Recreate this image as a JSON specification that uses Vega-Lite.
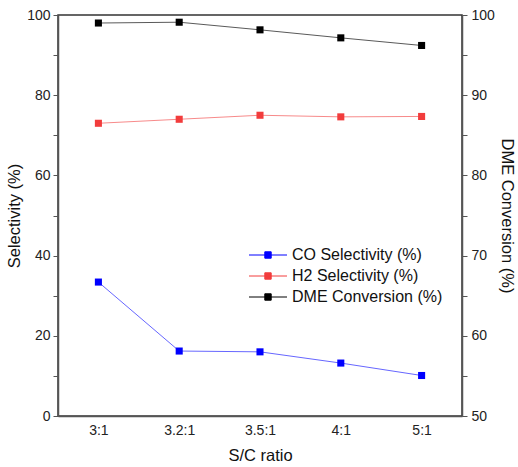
{
  "$schema": "https://vega.github.io/schema/vega-lite/v6.json",
  "width": 404,
  "height": 401,
  "autosize": "none",
  "padding": {"left": 58, "top": 15, "right": 56, "bottom": 51},
  "config": {
    "background": "white",
    "view": {"stroke": "#333", "strokeWidth": 1.5},
    "font": "Liberation Sans",
    "axis": {
      "grid": false,
      "domainColor": "#555",
      "domainWidth": 1.5,
      "tickColor": "#555",
      "tickSize": 5,
      "labelFontSize": 14,
      "titleFontSize": 16.5,
      "labelColor": "#222",
      "titleColor": "#111",
      "titleFontWeight": "normal",
      "labelPadding": 3
    }
  },
  "data": {
    "values": [
      {"ratio": "3:1", "series": "CO Selectivity (%)", "value": 33.4},
      {"ratio": "3.2:1", "series": "CO Selectivity (%)", "value": 16.2},
      {"ratio": "3.5:1", "series": "CO Selectivity (%)", "value": 16.0},
      {"ratio": "4:1", "series": "CO Selectivity (%)", "value": 13.2},
      {"ratio": "5:1", "series": "CO Selectivity (%)", "value": 10.1},
      {"ratio": "3:1", "series": "H2 Selectivity (%)", "value": 73.0},
      {"ratio": "3.2:1", "series": "H2 Selectivity (%)", "value": 74.0},
      {"ratio": "3.5:1", "series": "H2 Selectivity (%)", "value": 75.0},
      {"ratio": "4:1", "series": "H2 Selectivity (%)", "value": 74.6},
      {"ratio": "5:1", "series": "H2 Selectivity (%)", "value": 74.7},
      {"ratio": "3:1", "series": "DME Conversion (%)", "value": 99.0},
      {"ratio": "3.2:1", "series": "DME Conversion (%)", "value": 99.1},
      {"ratio": "3.5:1", "series": "DME Conversion (%)", "value": 98.15},
      {"ratio": "4:1", "series": "DME Conversion (%)", "value": 97.15},
      {"ratio": "5:1", "series": "DME Conversion (%)", "value": 96.2}
    ]
  },
  "encoding": {
    "x": {
      "field": "ratio",
      "type": "ordinal",
      "sort": ["3:1", "3.2:1", "3.5:1", "4:1", "5:1"],
      "scale": {"type": "point", "padding": 0.5},
      "axis": {"title": "S/C ratio", "labelAngle": 0, "ticks": false, "labelPadding": 7, "titlePadding": 10}
    },
    "color": {
      "field": "series",
      "type": "nominal",
      "scale": {"domain": ["CO Selectivity (%)", "H2 Selectivity (%)", "DME Conversion (%)"], "range": ["#0000ff", "#f23c3c", "#000000"]},
      "legend": {
        "title": null,
        "orient": "none",
        "legendX": 202,
        "legendY": 232,
        "labelFontSize": 16,
        "labelColor": "#111",
        "rowPadding": 5,
        "symbolType": "M-9.5,0H9.5M-1.6,-1.6H1.6V1.6H-1.6Z",
        "symbolSize": 16,
        "symbolStrokeWidth": 1,
        "symbolOpacity": 1,
        "labelOffset": 16
      }
    }
  },
  "layer": [
    {
      "transform": [{"filter": "datum.series != 'DME Conversion (%)'"}],
      "encoding": {
        "y": {
          "field": "value",
          "type": "quantitative",
          "scale": {"domain": [0, 100], "nice": false},
          "axis": {
            "title": "Selectivity (%)",
            "values": [0, 10, 20, 30, 40, 50, 60, 70, 80, 90, 100],
            "labelExpr": "datum.value % 20 == 0 ? datum.label : ''",
            "titlePadding": 4
          }
        }
      },
      "layer": [
        {"mark": {"type": "line", "strokeWidth": 1, "opacity": 0.6}},
        {"mark": {"type": "point", "shape": "square", "filled": true, "size": 50, "opacity": 1}}
      ]
    },
    {
      "transform": [{"filter": "datum.series == 'DME Conversion (%)'"}],
      "encoding": {
        "y": {
          "field": "value",
          "type": "quantitative",
          "scale": {"domain": [50, 100], "nice": false, "zero": false},
          "axis": {
            "orient": "right",
            "title": "DME Conversion (%)",
            "values": [50, 55, 60, 65, 70, 75, 80, 85, 90, 95, 100],
            "labelExpr": "datum.value % 10 == 0 ? datum.label : ''",
            "labelPadding": 4,
            "titlePadding": 4
          }
        }
      },
      "layer": [
        {"mark": {"type": "line", "strokeWidth": 1, "opacity": 0.65}},
        {"mark": {"type": "point", "shape": "square", "filled": true, "size": 50, "opacity": 1}}
      ]
    }
  ],
  "resolve": {"scale": {"y": "independent"}}
}
